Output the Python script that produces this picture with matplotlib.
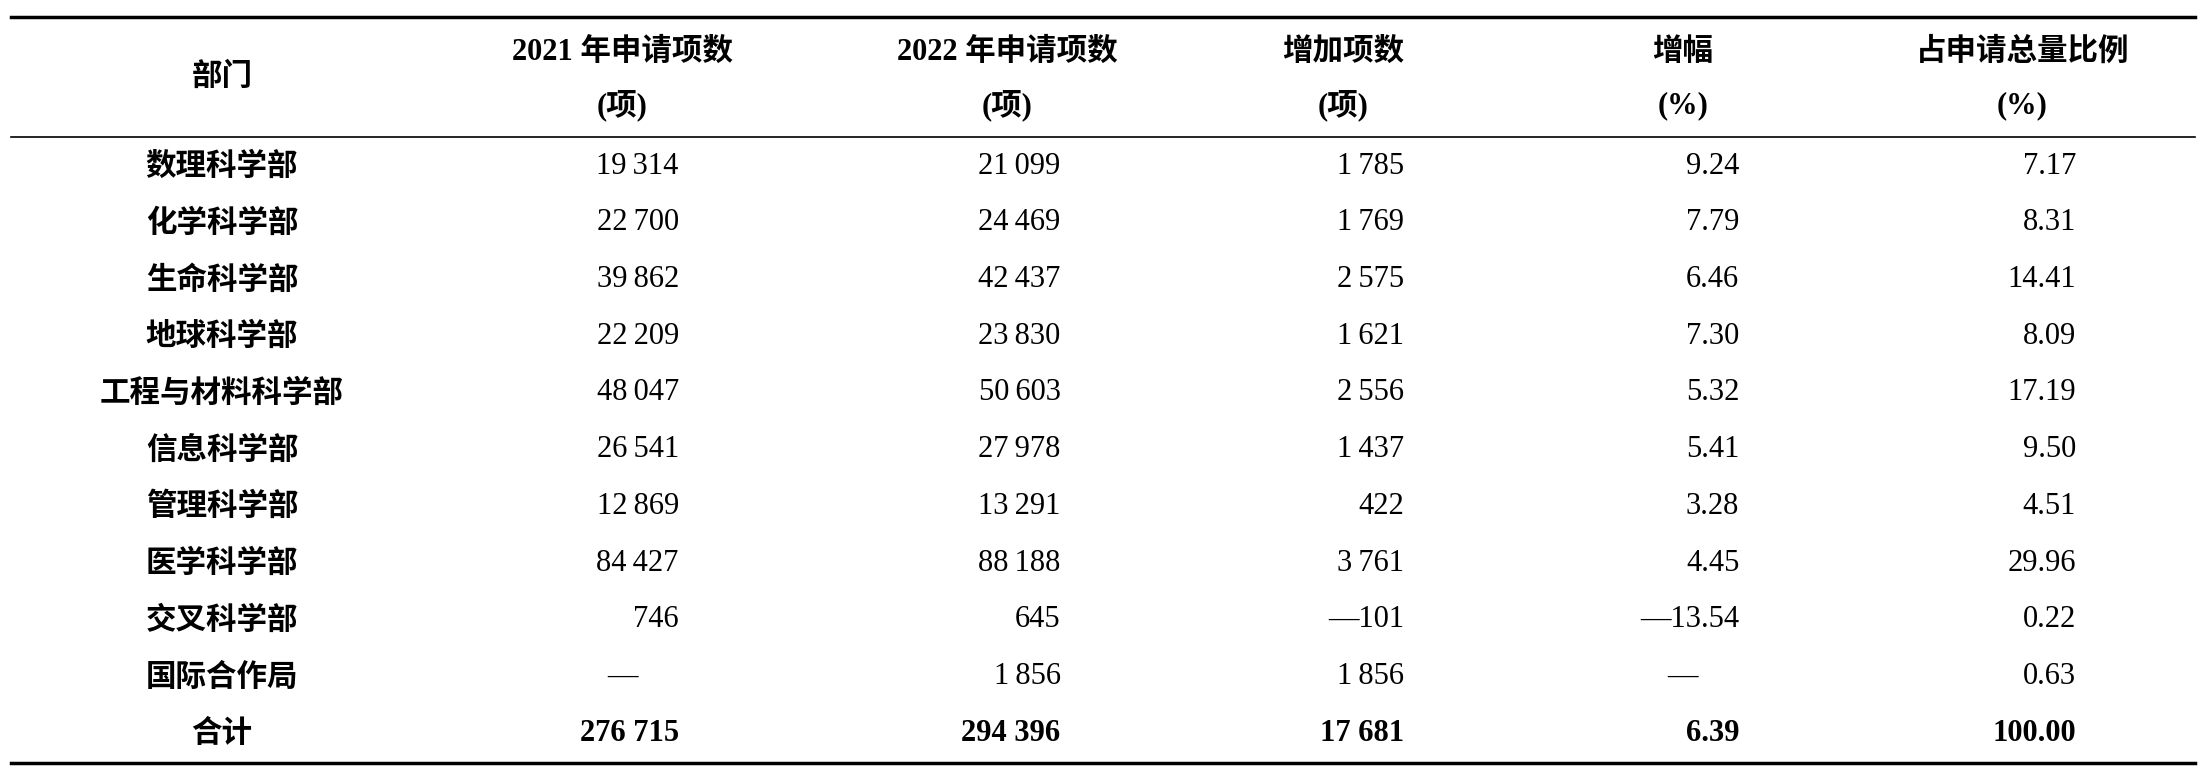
import matplotlib
matplotlib.use("Agg")
import matplotlib.pyplot as plt

departments = ["数理科学部","化学科学部","生命科学部","地球科学部","工程与材料科学部",
               "信息科学部","管理科学部","医学科学部","交叉科学部","国际合作局"]
apps_2021 = ["19\u2009314","22\u2009700","39\u2009862","22\u2009209","48\u2009047","26\u2009541","12\u2009869","84\u2009427","746","—"]
apps_2022 = ["21\u2009099","24\u2009469","42\u2009437","23\u2009830","50\u2009603","27\u2009978","13\u2009291","88\u2009188","645","1\u2009856"]
increase = ["1\u2009785","1\u2009769","2\u2009575","1\u2009621","2\u2009556","1\u2009437","422","3\u2009761","—101","1\u2009856"]
growth = ["9.24","7.79","6.46","7.30","5.32","5.41","3.28","4.45","—13.54","—"]
share = ["7.17","8.31","14.41","8.09","17.19","9.50","4.51","29.96","0.22","0.63"]
total = ["合计","276 715","294 396","17 681","6.39","100.00"]
headers = [("部门",None),("2021 年申请项数","(项)"),("2022 年申请项数","(项)"),
           ("增加项数","(项)"),("增幅","(%)"),("占申请总量比例","(%)")]

W, H = 1560, 550
fig = plt.figure(figsize=(22.06, 7.74), dpi=100)
ax = fig.add_axes([0, 0, 1, 1])
ax.set_xlim(0, W); ax.set_ylim(H, 0); ax.axis("off")
fam = ["Liberation Serif", "Noto Sans CJK SC", "DejaVu Sans"]
cjk = ["Noto Sans CJK SC", "DejaVu Sans"]
fs = 22

ax.plot([8, 1552], [12, 12], color="black", lw=2.5)
ax.plot([8, 1552], [97, 97], color="black", lw=1.2)
ax.plot([8, 1552], [542, 542], color="black", lw=2.5)

hx = [157, 440, 712, 950, 1190, 1430]
for (a, b), x in zip(headers, hx):
    if b is None:
        ax.text(x, 55, a, ha="center", va="center", fontsize=fs, family=fam, weight="bold")
    else:
        ax.text(x, 37, a, ha="center", va="center", fontsize=fs, family=fam, weight="bold")
        ax.text(x, 75, b, ha="center", va="center", fontsize=fs, family=fam, weight="bold")

rx = [480, 750, 993, 1230, 1468]
cols = [apps_2021, apps_2022, increase, growth, share]
for i, d in enumerate(departments):
    y = 118 + i * 40.3
    ax.text(157, y, d, ha="center", va="center", fontsize=fs, family=cjk, weight="bold")
    for c, x in zip(cols, rx):
        v = c[i]
        if v == "—":
            ax.text(x - 40, y, v, ha="center", va="center", fontsize=fs, family=fam)
        else:
            ax.text(x, y, v, ha="right", va="center", fontsize=fs, family=fam)
y = 118 + 10 * 40.3
ax.text(157, y, total[0], ha="center", va="center", fontsize=fs, family=cjk, weight="bold")
for v, x in zip(total[1:], rx):
    ax.text(x, y, v, ha="right", va="center", fontsize=fs, family=fam, weight="bold")

fig.savefig("out.png", dpi=100)
